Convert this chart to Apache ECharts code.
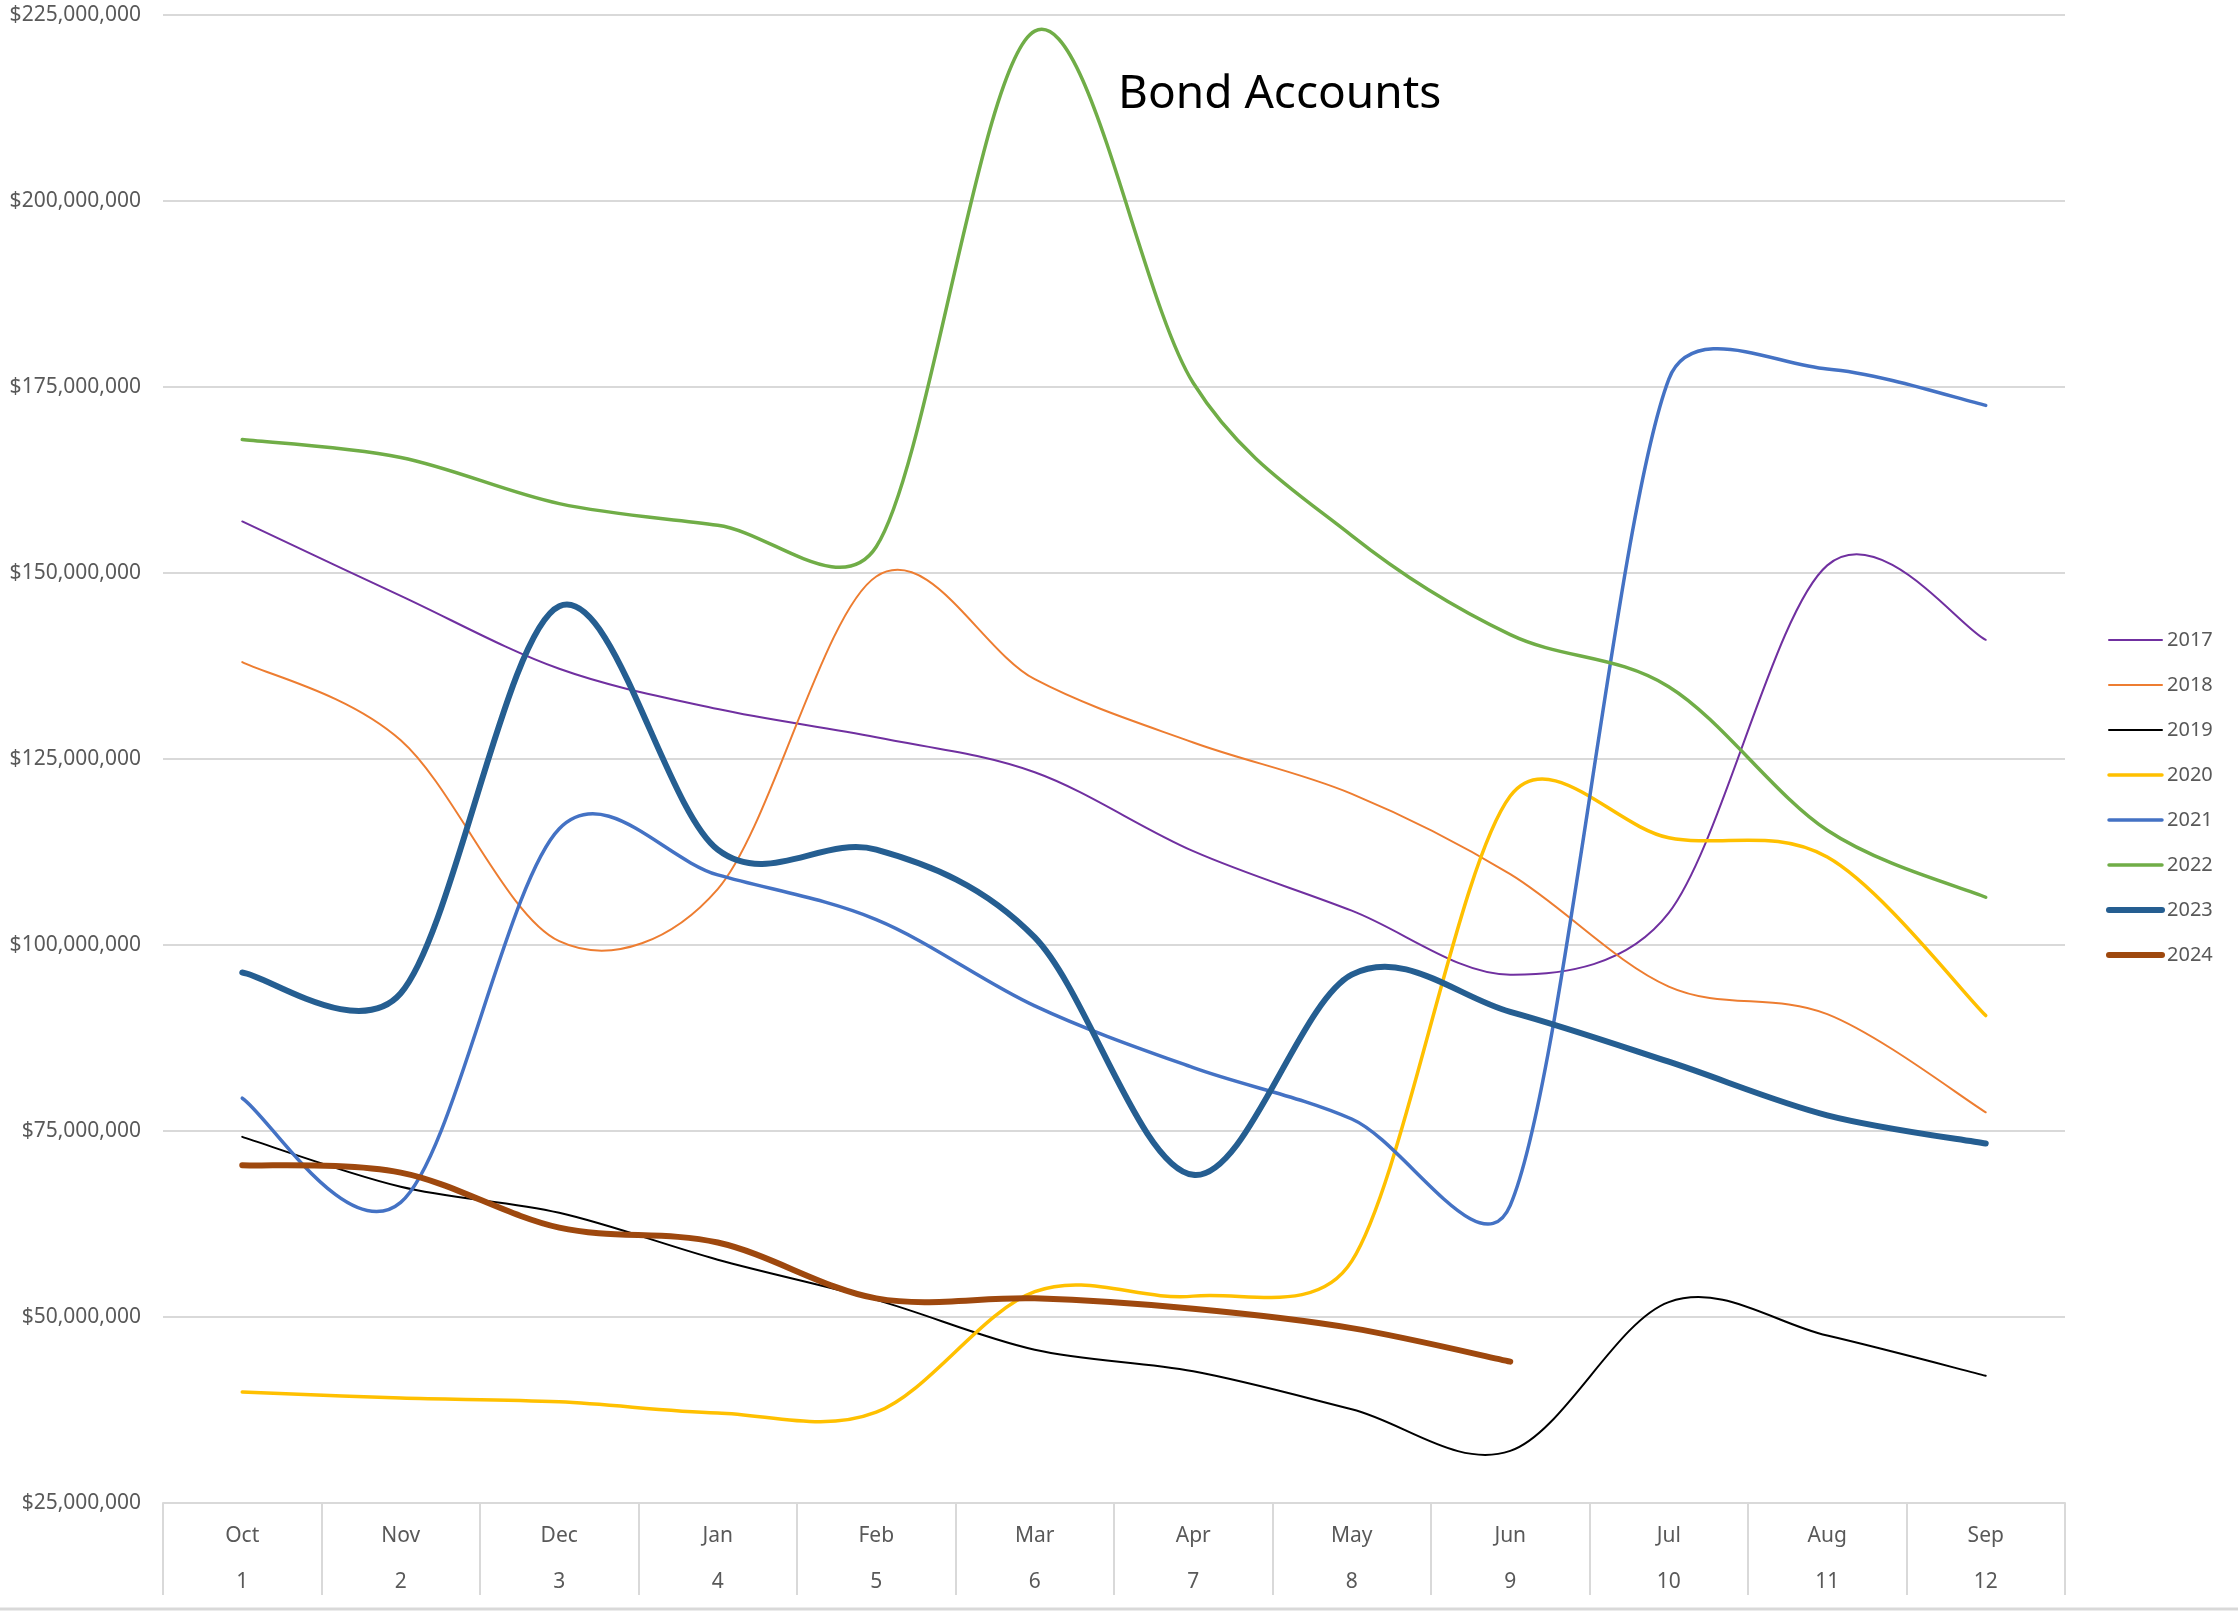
<!DOCTYPE html>
<html>
<head>
<meta charset="utf-8">
<script src="https://cdn.jsdelivr.net/npm/echarts@6/dist/echarts.min.js"></script>
<style>
html,body{margin:0;padding:0;background:#fff;}
#chart{width:2238px;height:1614px;}
</style>
</head>
<body>
<div id="chart"></div>
<script>
const months = ['Oct','Nov','Dec','Jan','Feb','Mar','Apr','May','Jun','Jul','Aug','Sep'];
const monthNums = ['1','2','3','4','5','6','7','8','9','10','11','12'];
const years = ['2017','2018','2019','2020','2021','2022','2023','2024'];

// values in millions of dollars
const s2017 = [156.9,146.9,137.1,131.7,127.9,123.2,112.6,104.6,96.0,104.3,151.0,141.0];
const s2018 = [138.0,127.5,100.5,107.5,149.5,135.7,127.2,120.3,109.5,94.4,90.7,77.5];
const s2019 = [74.2,67.5,64.0,57.7,52.3,45.6,42.7,37.6,32.0,52.0,47.5,42.1];
const s2020 = [39.9,39.1,38.6,37.1,37.2,53.4,52.8,57.5,120.0,114.4,111.8,90.5];
const s2021 = [79.4,65.4,115.6,109.4,103.4,91.8,83.5,76.6,65.0,176.0,177.4,172.5];
const s2022 = [167.9,165.5,159.3,156.4,153.5,222.8,175.5,155.0,141.7,134.7,115.4,106.4];
const s2023 = [96.3,93.5,145.5,112.8,112.8,101.0,69.1,96.0,91.0,84.3,77.1,73.3];
const s2024 = [70.4,69.4,62.0,60.0,52.5,52.5,51.1,48.5,44.0,null,null,null];

const yTicks = [25,50,75,100,125,150,175,200,225];

const seriesData = [s2017,s2018,s2019,s2020,s2021,s2022,s2023,s2024];
const colors = ['#7030A0','#ED7D31','#000000','#FFC000','#4472C4','#70AD47','#255E91','#9E480E'];
const widths = [2,2,2,3.5,3.5,3.5,6,6];

const FONT = "'Noto Sans', sans-serif";
const chart = echarts.init(document.getElementById('chart'));

function dist(a, b) { return Math.hypot(b[0] - a[0], b[1] - a[1]); }

// Spreadsheet-style smoothed path through the data points, positioned with the axes' scales.
// Tangent handles are 1/6 of the neighbour chord, limited to 0.4 of the segment length.
function handle(tx, ty, segLen) {
  const len = Math.hypot(tx, ty);
  const cap = 0.4 * segLen;
  if (len > cap && len > 0) { const s = cap / len; return [tx * s, ty * s]; }
  return [tx, ty];
}
function smoothPath(arr, api) {
  let segs = [], cur = [];
  arr.forEach((v, i) => {
    if (v === null) { if (cur.length) segs.push(cur); cur = []; }
    else cur.push(api.coord([i, v * 1e6]));
  });
  if (cur.length) segs.push(cur);
  let d = '';
  segs.forEach(p => {
    d += 'M' + p[0][0] + ' ' + p[0][1];
    for (let i = 0; i < p.length - 1; i++) {
      const p1 = p[i], p2 = p[i + 1];
      const p0 = i > 0 ? p[i - 1] : p1;
      const p3 = i + 2 < p.length ? p[i + 2] : p2;
      const d12 = dist(p1, p2);
      const h1 = handle((p2[0] - p0[0]) / 6, (p2[1] - p0[1]) / 6, d12);
      const h2 = handle((p3[0] - p1[0]) / 6, (p3[1] - p1[1]) / 6, d12);
      d += 'C' + (p1[0] + h1[0]) + ' ' + (p1[1] + h1[1]) + ' ' +
           (p2[0] - h2[0]) + ' ' + (p2[1] - h2[1]) + ' ' + p2[0] + ' ' + p2[1];
    }
  });
  return d;
}

const legendSeries = years.map((y, i) => ({
  name: y,
  type: 'line',
  data: seriesData[i].map(v => v === null ? null : v * 1e6),
  symbol: 'none',
  showSymbol: false,
  silent: true,
  color: colors[i],
  lineStyle: {color: colors[i], width: widths[i], opacity: 0},
  z: 1
}));

const drawSeries = years.map((y, i) => ({
  name: 'line ' + y,
  type: 'custom',
  coordinateSystem: 'cartesian2d',
  data: [[0, seriesData[i][0] * 1e6]],
  silent: true,
  clip: true,
  z: 2 + i,
  renderItem: (params, api) => ({
    type: 'path',
    shape: {pathData: smoothPath(seriesData[i], api)},
    style: {stroke: colors[i], lineWidth: widths[i], fill: 'none', lineCap: 'round', lineJoin: 'round'}
  })
}));

const option = {
  backgroundColor: '#ffffff',
  animation: false,
  title: {
    text: 'Bond Accounts',
    left: 1113,
    top: 67,
    textStyle: {fontFamily: FONT, fontSize: 46, fontWeight: 'normal', color: '#000000'}
  },
  legend: {
    orient: 'vertical',
    left: 2101,
    top: 625,
    itemWidth: 53,
    itemHeight: 14,
    itemGap: 25,
    data: years.map((y, i) => ({
      name: y,
      lineStyle: {color: colors[i], width: widths[i], opacity: 1, cap: 'round'}
    })),
    itemStyle: {opacity: 0},
    lineStyle: {opacity: 1},
    textStyle: {fontFamily: FONT, fontSize: 20, color: '#595959'}
  },
  grid: {left: 163, right: 173, top: 14.7, bottom: 111, containLabel: false},
  xAxis: {
    type: 'category',
    data: months.map((m, i) => m + '\n' + monthNums[i]),
    boundaryGap: true,
    axisLine: {show: true, lineStyle: {color: '#D9D9D9', width: 2}},
    axisTick: {show: true, length: 92, interval: 0, lineStyle: {color: '#D9D9D9', width: 2}},
    axisLabel: {
      interval: 0, margin: 10, color: '#595959',
      fontFamily: FONT, fontSize: 21, lineHeight: 46
    },
    splitLine: {show: false}
  },
  yAxis: {
    type: 'value',
    min: yTicks[0] * 1e6,
    max: yTicks[yTicks.length - 1] * 1e6,
    interval: 25e6,
    axisLine: {show: false},
    axisTick: {show: false},
    axisLabel: {
      margin: 22, color: '#595959', fontFamily: FONT, fontSize: 21,
      formatter: v => '$' + Math.round(v).toLocaleString('en-US')
    },
    splitLine: {show: true, lineStyle: {color: '#D9D9D9', width: 2}}
  },
  graphic: [{
    type: 'line',
    shape: {x1: 0, y1: 1609, x2: 2238, y2: 1609},
    style: {stroke: '#D9D9D9', lineWidth: 3}
  }],
  series: legendSeries.concat(drawSeries)
};
chart.setOption(option);
</script>
</body>
</html>
